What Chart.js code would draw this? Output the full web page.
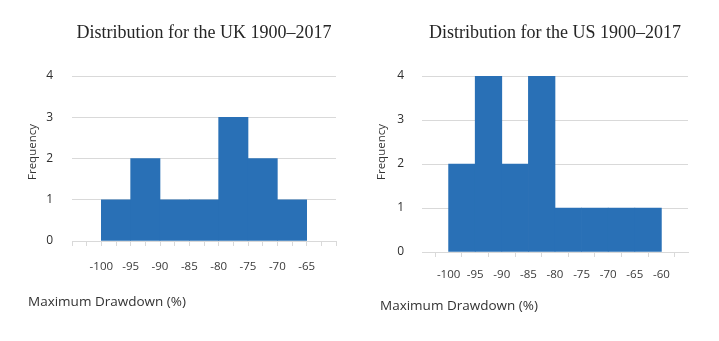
<!DOCTYPE html>
<html><head><meta charset="utf-8">
<script src="https://cdn.jsdelivr.net/npm/chart.js@4"></script>
<style>
html,body{margin:0;padding:0;background:#fff;width:719px;height:341px;overflow:hidden}
canvas{position:absolute;top:0}
#uk{left:0}
#us{left:360px}
</style></head><body>
<canvas id="uk" width="360" height="341"></canvas>
<canvas id="us" width="359" height="341"></canvas>
<script>
// ---- data ----
const ukBinStarts = [-100, -95, -90, -85, -80, -75, -70];
const ukCounts    = [1, 2, 1, 1, 3, 2, 1];
const ukTickLabels = ['-100', '-95', '-90', '-85', '-80', '-75', '-70', '-65'];

const usBinStarts = [-100, -95, -90, -85, -80, -75, -70, -65];
const usCounts    = [2, 4, 2, 4, 1, 1, 1, 1];
const usTickLabels = ['-100', '-95', '-90', '-85', '-80', '-75', '-70', '-65', '-60'];

const binWidth = 5;
const yTickLabels = ['0', '1', '2', '3', '4'];
const chartTitles = ['Distribution for the UK 1900\u20132017', 'Distribution for the US 1900\u20132017'];
const xAxisTitle = 'Maximum Drawdown (%)';
const yAxisTitle = 'Frequency';

// ---- styling ----
const BAR = '#2970b6';
const GRID = '#d9d9d9';

const axisTitles = {
  id: 'axisTitles',
  afterDraw(chart, args, o) {
    const ctx = chart.ctx;
    ctx.save();
    ctx.fillStyle = '#333333';
    ctx.font = '13.5px "Open Sans"';
    ctx.textBaseline = 'middle';
    ctx.textAlign = 'left';
    ctx.fillText(o.xText, o.xPos[0], o.xPos[1]);
    ctx.translate(o.yPos[0], o.yPos[1]);
    ctx.rotate(-Math.PI / 2);
    ctx.textAlign = 'center';
    ctx.font = '11.5px "Open Sans"';
    ctx.fillText(o.yText, 0, 0);
    ctx.restore();
  }
};

function makeChart(id, title, starts, counts, tickLabels, L) {
  const data = starts.map((s, i) => ({ x: s + binWidth / 2, y: counts[i] }));
  return new Chart(document.getElementById(id), {
    type: 'bar',
    data: {
      datasets: [{
        data: data,
        backgroundColor: BAR,
        borderWidth: 0,
        barPercentage: 1,
        categoryPercentage: 1,
        xAxisID: 'x'
      }]
    },
    plugins: [axisTitles],
    options: {
      responsive: false,
      animation: false,
      events: [],
      layout: { padding: { left: 0, right: L.padRight, top: 0, bottom: 0 } },
      plugins: {
        legend: { display: false },
        tooltip: { enabled: false },
        title: {
          display: true,
          text: title,
          fullSize: false,
          color: '#262626',
          font: { family: '"Liberation Serif", "Times New Roman", serif', size: 18, weight: 'normal' },
          padding: { top: 22.2, bottom: 32.2 }
        },
        axisTitles: { xText: xAxisTitle, yText: yAxisTitle, xPos: L.xTitlePos, yPos: L.yTitlePos }
      },
      scales: {
        x: {
          type: 'linear',
          display: false,
          offset: false,
          grid: { offset: false },
          min: L.xMin, max: L.xMax,
          ticks: { stepSize: binWidth }
        },
        xt: {
          type: 'linear',
          position: 'bottom',
          offset: false,
          min: L.xMin, max: L.xMax,
          afterFit(s) { s.height = 341 - L.plotBottom; },
          ticks: {
            stepSize: binWidth / 2,
            autoSkip: false,
            maxRotation: 0,
            minRotation: 0,
            padding: L.labelPad,
            color: '#3a3a3a',
            font: { family: '"Open Sans"', size: 11.5 },
            callback: (v) => {
              const t = tickLabels.find(lbl => Number(lbl) === v);
              return t === undefined ? '' : t;
            }
          },
          grid: {
            offset: false,
            drawOnChartArea: false,
            drawTicks: true,
            tickLength: 5,
            tickColor: (c) => (L.halfTicksOnly && c.tick && c.tick.value % binWidth === 0) ? 'rgba(0,0,0,0)' : GRID
          },
          border: { display: true, color: GRID }
        },
        y: {
          type: 'linear',
          min: 0, max: 4,
          afterFit(s) { s.width = L.plotLeft; },
          ticks: {
            stepSize: 1,
            padding: L.yLabelPad,
            color: '#2e2e2e',
            font: { family: '"Open Sans"', size: 12 },
            callback: (v) => yTickLabels[v] !== undefined ? yTickLabels[v] : ''
          },
          grid: { color: GRID, drawTicks: false },
          border: { display: false }
        }
      }
    }
  });
}

makeChart('uk', chartTitles[0], ukBinStarts, ukCounts, ukTickLabels, {
  plotLeft: 72, padRight: 24, plotBottom: 241, xMin: -105, xMax: -60,
  halfTicksOnly: false, labelPad: 14, yLabelPad: 19,
  xTitlePos: [28, 302], yTitlePos: [33, 152]
});
makeChart('us', chartTitles[1], usBinStarts, usCounts, usTickLabels, {
  plotLeft: 62, padRight: 31, plotBottom: 252, xMin: -105, xMax: -55,
  halfTicksOnly: true, labelPad: 11, yLabelPad: 18,
  xTitlePos: [20, 306], yTitlePos: [22, 152]
});
</script>
</body></html>
